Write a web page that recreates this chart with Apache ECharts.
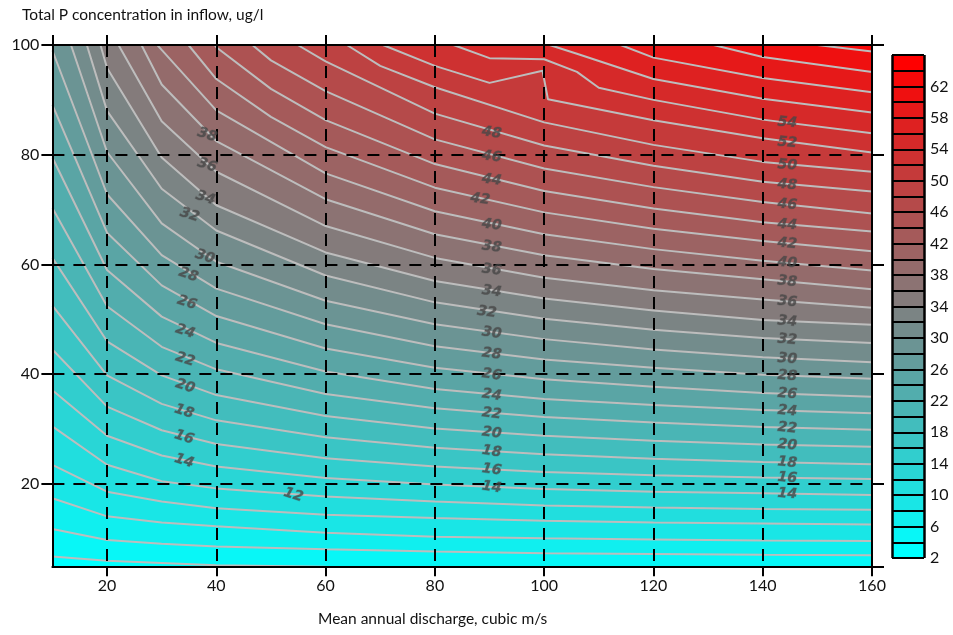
<!DOCTYPE html>
<html><head><meta charset="utf-8">
<script src="https://cdn.jsdelivr.net/npm/echarts@6/dist/echarts.min.js"></script>
<style>html,body{margin:0;padding:0;background:#fff}#chart{width:953px;height:635px}</style>
</head><body><div id="chart"></div>
<script>
// ---- Contour lines: [discharge, inflow P] per level ----
const c04 = [[10,6.8],[20,6.0],[30,5.6],[40,5.2],[60,4.9],[80,4.7],[100,4.6],[120,4.5],[140,4.5],[160,4.4]];
const c06 = [[10,11.8],[20,9.8],[30,9.1],[40,8.6],[60,8.1],[80,7.7],[100,7.4],[120,7.25],[140,7.1],[160,7.0]];
const c08 = [[10,17.4],[20,14.1],[30,13.0],[40,12.3],[60,11.1],[80,10.4],[100,10.1],[120,9.9],[140,9.7],[160,9.6]];
const c10 = [[10,23.5],[20,18.6],[30,16.8],[40,15.6],[60,14.4],[80,13.8],[100,13.3],[120,13.0],[140,12.8],[160,12.6]];
const c12 = [[10,30.5],[20,23.5],[30,20.5],[40,19.2],[60,17.7],[80,16.8],[100,16.1],[120,15.7],[140,15.45],[160,15.3]];
const c14 = [[10,37.1],[20,28.8],[30,25.2],[40,23.2],[60,21.1],[80,19.9],[100,19.1],[120,18.6],[140,18.3],[160,18.0]];
const c16 = [[10,44.5],[20,34.1],[30,29.8],[40,27.3],[60,24.7],[80,23.2],[100,22.2],[120,21.6],[140,21.2],[160,20.9]];
const c18 = [[10,52.5],[20,39.8],[30,34.6],[40,31.6],[60,28.5],[80,26.6],[100,25.4],[120,24.6],[140,24.0],[160,23.6]];
const c20 = [[10,61.2],[20,46.0],[30,39.8],[40,36.2],[60,32.4],[80,30.1],[100,28.8],[120,27.9],[140,27.2],[160,26.8]];
const c22 = [[10,70.3],[20,52.4],[30,45.0],[40,40.9],[60,36.4],[80,33.8],[100,32.2],[120,31.2],[140,30.4],[160,29.9]];
const c24 = [[10,79.5],[20,59.0],[30,50.5],[40,45.7],[60,40.5],[80,37.3],[100,35.5],[120,34.4],[140,33.5],[160,32.9]];
const c26 = [[10,89.1],[20,65.8],[30,56.2],[40,50.6],[60,44.7],[80,41.2],[100,39.1],[120,37.7],[140,36.6],[160,35.9]];
const c28 = [[10,99.0],[20,72.8],[30,61.7],[40,55.6],[60,49.1],[80,45.1],[100,42.7],[120,41.2],[140,39.9],[160,39.2]];
const c30 = [[13.4,100],[20,80.5],[30,67.5],[40,60.5],[60,53.4],[80,49.1],[100,46.4],[120,44.5],[140,43.1],[160,42.2]];
const c32 = [[16.3,100],[20,88.0],[30,73.8],[40,66.2],[60,58.0],[80,53.1],[100,50.1],[120,48.1],[140,46.6],[160,45.7]];
const c34 = [[18.8,100],[20,95.8],[30,79.5],[40,70.8],[60,62.2],[80,57.0],[100,53.8],[120,51.6],[140,49.9],[160,49.0]];
const c36 = [[22.1,100],[30,86.1],[40,76.9],[60,67.0],[80,61.2],[100,57.6],[120,55.3],[140,53.6],[160,52.1]];
const c38 = [[26.3,100],[30,92.8],[40,82.5],[60,71.9],[80,65.5],[100,61.7],[120,59.2],[140,57.3],[160,55.5]];
const c40 = [[29.2,100],[30,99.1],[40,88.1],[60,76.6],[80,69.7],[100,65.5],[120,62.8],[140,60.7],[160,58.9]];
const c42 = [[34.9,100],[40,93.8],[50,86.9],[60,81.4],[80,74.0],[100,69.5],[120,66.5],[140,64.3],[160,62.4]];
const c44 = [[39.7,100],[40,99.6],[50,92.0],[60,86.3],[80,78.3],[100,73.4],[120,70.2],[140,67.7],[160,66.0]];
const c46 = [[46.6,100],[50,97.2],[60,91.6],[80,82.8],[100,77.5],[120,74.1],[140,71.4],[160,69.3]];
const c48 = [[54.9,100],[60,97.0],[80,87.5],[100,81.7],[120,78.0],[140,75.1],[160,73.3]];
const c50 = [[63.9,100],[70,96.2],[80,92.3],[100,85.9],[120,81.8],[140,78.7],[160,76.9]];
const c52 = [[70.5,100],[80,96.2],[90,93.1],[99.7,95.3],[100.7,90.1],[120,86.3],[140,83.0],[160,80.4]];
const c54 = [[83.4,100],[90,97.6],[100,97.4],[106,95.1],[110,92.2],[120,90.0],[140,86.4],[160,83.9]];
const c56 = [[101,100],[106,98.4],[120,93.8],[140,90.2],[160,87.7]];
const c58 = [[114,100],[120,97.7],[140,94.0],[160,91.4]];
const c60 = [[131,100],[140,97.8],[160,95.1]];
const c62 = [[150,100],[160,98.8]];

const contourLevels = [4,6,8,10,12,14,16,18,20,22,24,26,28,30,32,34,36,38,40,42,44,46,48,50,52,54,56,58,60,62];
const contourPaths  = [c04,c06,c08,c10,c12,c14,c16,c18,c20,c22,c24,c26,c28,c30,c32,c34,c36,c38,c40,c42,c44,c46,c48,c50,c52,c54,c56,c58,c60,c62];

// ---- Contour labels: [x, y, level] ----
const labelsLeft = [[38.3,83.6,38],[38.3,78.1,36],[38.0,72.1,34],[35.1,69.0,32],[37.9,61.4,30],[34.9,58.1,28],[34.6,53.0,26],[34.3,47.8,24],[34.3,42.7,22],[34.3,37.8,20],[34.1,33.2,18],[34.1,28.5,16],[34.1,24.2,14],[54.1,18.0,12]];
const labelsMid = [[90.4,84.0,48],[90.4,79.65,46],[90.4,75.4,44],[88.3,71.9,42],[90.4,67.2,40],[90.4,63.2,38],[90.4,59.0,36],[90.4,55.1,34],[89.5,51.3,32],[90.4,47.5,30],[90.4,43.7,28],[90.4,39.9,26],[90.4,36.2,24],[90.4,32.8,22],[90.4,29.3,20],[90.4,25.9,18],[90.4,22.6,16],[90.4,19.4,14]];
const labelsRight = [[144.5,85.85,54],[144.5,82.2,52],[144.5,78.1,50],[144.5,74.5,48],[144.5,70.9,46],[144.5,67.2,44],[144.5,63.8,42],[144.5,60.3,40],[144.5,56.9,38],[144.5,53.2,36],[144.5,49.6,34],[144.5,46.3,32],[144.5,42.8,30],[144.5,39.7,28],[144.5,36.4,26],[144.5,33.3,24],[144.5,30.2,22],[144.5,27.1,20],[144.5,23.9,18],[144.5,21.1,16],[144.5,18.2,14]];

// ---- Colour bar bands (lower bound of each 2-unit band) ----
const cbBands = [2,4,6,8,10,12,14,16,18,20,22,24,26,28,30,32,34,36,38,40,42,44,46,48,50,52,54,56,58,60,62,64];
const cbMin = 2, cbMax = 66, cbLabelStep = 4, cbBandStep = 2;

const FONT = 'Lato, "Open Sans", sans-serif';
function bandColor(i){
  const t = i / 31;
  const r = Math.round(255*t), g = Math.round(255*(1-t));
  return 'rgb(' + r + ',' + g + ',' + g + ')';
}

const series = [];
contourPaths.forEach((pts, k) => {
  const lv = contourLevels[k];
  series.push({
    type:'line', xAxisIndex:0, yAxisIndex:0, data:pts, symbol:'none', silent:true, z:2,
    lineStyle:{width:0, opacity:0},
    areaStyle:{origin:'end', color:bandColor((lv-2)/2), opacity:1}
  });
});
contourPaths.forEach((pts) => {
  series.push({
    type:'line', xAxisIndex:0, yAxisIndex:0, data:pts, symbol:'none', silent:true, z:3,
    lineStyle:{color:'#bdbdbd', width:2}
  });
});
function labelSeries(arr, rot){
  return {
    type:'scatter', xAxisIndex:0, yAxisIndex:0, symbolSize:0, silent:true, z:20,
    data: arr.map(d => ({value:[d[0], d[1]], name:String(d[2])})),
    label:{show:true, position:'inside', formatter:p => p.name, rotate:rot,
      fontFamily:'"DejaVu Sans", sans-serif', fontWeight:'bold', fontStyle:'italic', fontSize:14,
      color:'#474747', textBorderColor:'rgba(70,70,70,0.35)', textBorderWidth:1}
  };
}
series.push(labelSeries(labelsLeft, -18));
series.push(labelSeries(labelsMid, -8));
series.push(labelSeries(labelsRight, -5));

// colour bar
series.push({type:'bar', xAxisIndex:2, yAxisIndex:2, stack:'cb', data:[cbMin], barWidth:'100%',
  itemStyle:{color:'rgba(0,0,0,0)'}, silent:true});
cbBands.forEach((b, i) => {
  series.push({type:'bar', xAxisIndex:2, yAxisIndex:2, stack:'cb', data:[cbBandStep], barWidth:'100%', silent:true,
    itemStyle:{color:bandColor(i), borderWidth:0}});
});

const dash = {color:'#000', width:2, type:[12,9]};
const frame = {show:true, onZero:false, lineStyle:{color:'#000', width:2}};
const option = {
  animation:false,
  backgroundColor:'#fff',
  title:[
    {text:'Total P concentration in inflow, ug/l', left:22, top:7, padding:0,
      textStyle:{fontFamily:FONT, fontSize:15.5, fontWeight:'normal', color:'#111'}},
    {text:'Mean annual discharge, cubic m/s', left:318, top:611, padding:0,
      textStyle:{fontFamily:FONT, fontSize:15.5, fontWeight:'normal', color:'#111'}}
  ],
  grid:[
    {left:52.4, right:81, top:45, bottom:68.7, show:true, backgroundColor:bandColor(0), borderWidth:0},
    {left:892, width:32, top:55, height:503}
  ],
  xAxis:[
    {type:'value', gridIndex:0, min:10, max:160, splitNumber:7, z:10, axisLine:frame,
      axisTick:{show:true, inside:false, length:10, lineStyle:{color:'#000', width:2}},
      axisLabel:{showMinLabel:false, margin:12, fontFamily:FONT, fontSize:16, color:'#111'},
      splitLine:{show:true, lineStyle:dash}},
    {type:'value', gridIndex:0, position:'top', min:10, max:160, splitNumber:7, z:10, axisLine:frame,
      axisTick:{show:true, inside:false, length:10, lineStyle:{color:'#000', width:2}},
      axisLabel:{show:false}, splitLine:{show:false}},
    {type:'category', gridIndex:1, data:['cb'], show:false},
    {type:'value', gridIndex:1, position:'top', min:0, max:1, interval:1, z:10,
      axisLine:{show:false}, axisTick:{show:false}, axisLabel:{show:false},
      splitLine:{show:true, lineStyle:{color:'#000', width:2.5}}}
  ],
  yAxis:[
    {type:'value', gridIndex:0, min:5, max:100, splitNumber:5, z:10, axisLine:frame,
      axisTick:{show:true, inside:false, length:11, lineStyle:{color:'#000', width:2}},
      axisLabel:{showMinLabel:false, margin:13, fontFamily:FONT, fontSize:16, color:'#111'},
      splitLine:{show:true, lineStyle:dash}},
    {type:'value', gridIndex:0, position:'right', min:5, max:100, splitNumber:5, z:10, axisLine:frame,
      axisTick:{show:true, inside:false, length:12, lineStyle:{color:'#000', width:2}},
      axisLabel:{show:false}, splitLine:{show:false}},
    {type:'value', gridIndex:1, position:'right', min:cbMin, max:cbMax, interval:cbLabelStep,
      axisLine:{show:false}, axisTick:{show:false}, splitLine:{show:false},
      axisLabel:{showMaxLabel:false, margin:6, fontFamily:FONT, fontSize:16, color:'#111'}},
    {type:'value', gridIndex:1, position:'left', min:cbMin, max:cbMax, interval:cbBandStep, z:10,
      axisLine:{show:false}, axisTick:{show:false}, axisLabel:{show:false},
      splitLine:{show:true, lineStyle:{color:'#000', width:2}}}
  ],
  series: series
};
const chart = echarts.init(document.getElementById('chart'), null, {renderer:'canvas'});
chart.setOption(option);
</script></body></html>
